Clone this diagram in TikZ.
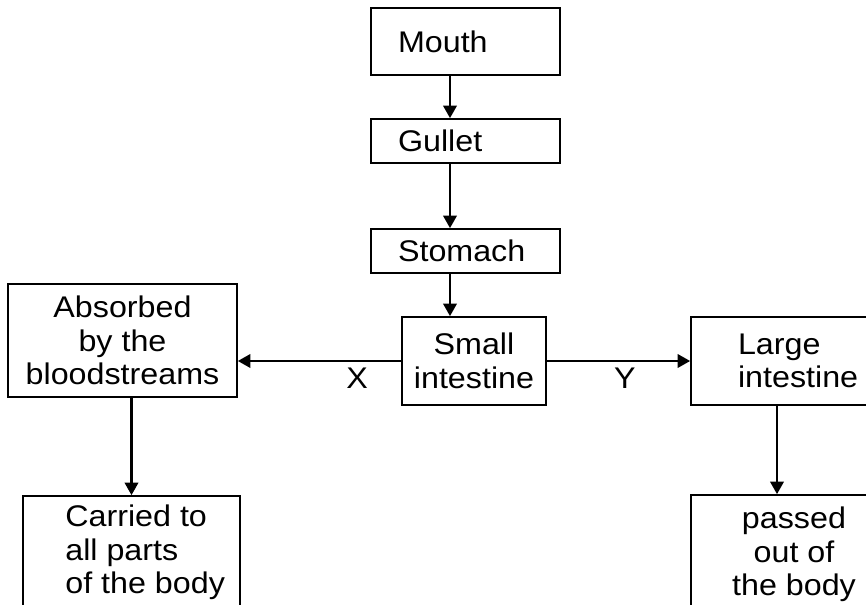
\documentclass[tikz,border=0pt]{standalone}
\usepackage{fontspec}
\setmainfont{Liberation Sans}[FakeStretch=1.08]
\usetikzlibrary{arrows.meta}

\begin{document}
\begin{tikzpicture}[x=0.02cm, y=-0.02cm,
    font=\fontsize{17}{19}\selectfont,
    box/.style={draw, line width=1pt, inner sep=0pt},
    lbox/.style={box, align=left, text width=2.7cm},
    arr/.style={-{Triangle[length=0.25cm, width=0.27cm]}, line width=1.2pt}]
    \useasboundingbox (0, 0) rectangle (866, 605);
    \node[lbox, minimum width=3.78cm, minimum height=1.34cm] (mouth) at (465.5, 41.5) {Mouth};
    \node[lbox, minimum width=3.78cm, minimum height=0.88cm] (gullet) at (465.5, 141) {Gullet};
    \node[lbox, minimum width=3.78cm, minimum height=0.88cm] (stomach) at (465.5, 251) {Stomach};
    \node[box, align=center, minimum width=2.88cm, minimum height=1.76cm] (small) at (474, 361) {Small\\intestine};
    \node[box, align=center, minimum width=4.58cm, minimum height=2.26cm] (absorbed) at (122.5, 340.5) {Absorbed\\by the\\bloodstreams};
    \node[box, align=left, text width=2.5cm, minimum width=4.38cm, minimum height=1.76cm] (large) at (800.5, 361) {Large\\intestine};
    \node[box, minimum width=4.34cm, minimum height=2.88cm] (carried) at (131.5, 568) {};
    \node[box, minimum width=4.38cm, minimum height=2.9cm] (passed) at (800.5, 567.5) {};
    \node[inner sep=0pt, anchor=north west, align=left] (carriedtxt) at (65, 505) {Carried to\\all parts\\of the body};
    \node[inner sep=0pt, anchor=north, align=center] (passedtxt) at (794, 507) {passed\\out of\\the body};
    \draw [arr] ([xshift=-0.31cm]mouth.south) to ([xshift=-0.31cm]gullet.north);
    \draw [arr] ([xshift=-0.31cm]gullet.south) to ([xshift=-0.31cm]stomach.north);
    \draw [arr] ([xshift=-0.31cm]stomach.south) to ([xshift=-0.31cm]stomach.south |- small.north);
    \draw [arr] (small.west) to node[below, pos=0.27] (xlab) {X} (small.west -| absorbed.east);
    \draw [arr] (small.east) to node[below, pos=0.545] (ylab) {Y} (small.east -| large.west);
    \draw [arr] (carried.north |- absorbed.south) to (carried.north);
    \draw [arr] ([xshift=-0.47cm]large.south) to ([xshift=-0.47cm]passed.north);
\end{tikzpicture}
\end{document}
